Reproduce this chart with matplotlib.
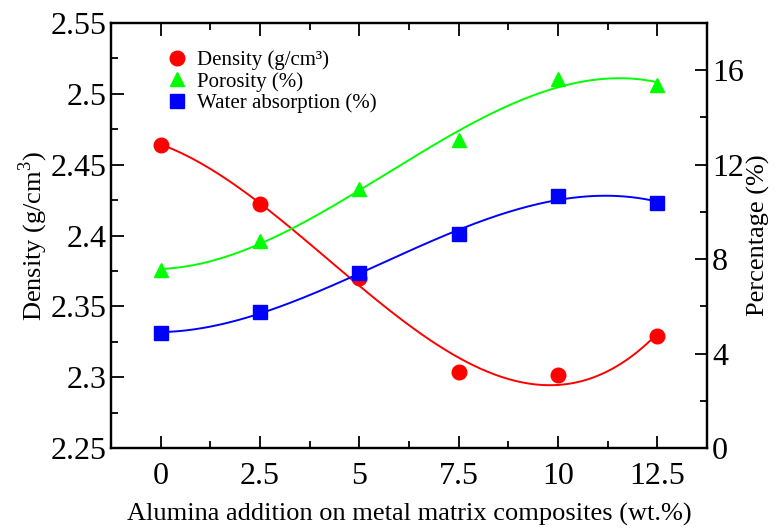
import numpy as np
import matplotlib
matplotlib.use("Agg")
import matplotlib.pyplot as plt
from matplotlib.lines import Line2D
from matplotlib.ticker import MultipleLocator

plt.rcParams['font.family'] = ['Liberation Serif', 'DejaVu Serif']
plt.rcParams['mathtext.fontset'] = 'custom'
plt.rcParams['mathtext.rm'] = 'Liberation Serif'

x = [0, 2.5, 5, 7.5, 10, 12.5]
density = [2.464, 2.422, 2.370, 2.304, 2.3015, 2.329]
porosity = [7.53, 8.77, 10.99, 13.05, 15.63, 15.39]
water = [4.88, 5.76, 7.41, 9.08, 10.66, 10.39]

fig = plt.figure(figsize=(7.77, 5.29), dpi=100)
ax = fig.add_axes([0.1429, 0.1531, 0.7671, 0.8034])
ax2 = ax.twinx()

xs = np.linspace(0, 12.5, 300)

def fit(y):
    return np.polyval(np.polyfit(x, y, 3), xs)

ax.plot(xs, fit(density), color='#ff0000', lw=1.4, zorder=2)
ax.plot(x, density, 'o', color='#ff0000', ms=10.5, zorder=3)
ax2.plot(xs, fit(porosity), color='#00ff00', lw=1.4, zorder=2)
ax2.plot(x, porosity, '^', color='#00ff00', ms=10.5, zorder=3)
ax2.plot(xs, fit(water), color='#0000ff', lw=1.4, zorder=2)
ax2.plot(x, water, 's', color='#0000ff', ms=9.5, zorder=3)

ax.set_xlim(-1.25, 13.75)
ax.set_ylim(2.25, 2.55)
ax2.set_ylim(0, 18)

ax.xaxis.set_major_locator(MultipleLocator(2.5))
ax.xaxis.set_minor_locator(MultipleLocator(1.25))
ax.yaxis.set_major_locator(MultipleLocator(0.05))
ax.yaxis.set_minor_locator(MultipleLocator(0.025))
ax2.yaxis.set_major_locator(MultipleLocator(4))
ax2.yaxis.set_minor_locator(MultipleLocator(2))

ax.set_xticks([0, 2.5, 5, 7.5, 10, 12.5])
ax.set_xticklabels(['0', '2.5', '5', '7.5', '10', '12.5'])
ax.set_yticks([2.25, 2.3, 2.35, 2.4, 2.45, 2.5, 2.55])
ax.set_yticklabels(['2.25', '2.3', '2.35', '2.4', '2.45', '2.5', '2.55'])
ax2.set_yticks([0, 4, 8, 12, 16])
ax2.set_yticklabels(['0', '4', '8', '12', '16'])

for a in (ax, ax2):
    for s in a.spines.values():
        s.set_linewidth(1.6)
ax.tick_params(axis='both', which='major', direction='in', length=9, width=1.3, labelsize=23, top=True)
ax.tick_params(axis='both', which='minor', direction='in', length=5, width=1.3, top=True)
ax.tick_params(axis='y', which='both', right=False)
ax2.tick_params(axis='y', which='major', direction='in', length=9, width=1.3, labelsize=23)
ax2.tick_params(axis='y', which='minor', direction='in', length=5, width=1.3)
ax.tick_params(axis='x', pad=10)

ax.set_xlabel('Alumina addition on metal matrix composites (wt.%)', fontsize=19, labelpad=9)
ax.set_ylabel('Density (g/cm$^3$)', fontsize=19, labelpad=0)
ax2.set_ylabel('Percentage (%)', fontsize=19, labelpad=2)

handles = [
    Line2D([], [], ls='none', marker='o', color='#ff0000', ms=10.5),
    Line2D([], [], ls='none', marker='^', color='#00ff00', ms=10.5),
    Line2D([], [], ls='none', marker='s', color='#0000ff', ms=9.5),
]
labels = ['Density (g/cm\u00b3)', 'Porosity (%)', 'Water absorption (%)']
ax2.legend(handles, labels, loc='upper left', bbox_to_anchor=(0.075, 0.955),
           frameon=False, fontsize=15, handletextpad=0.4, labelspacing=0.08,
           borderaxespad=0, handlelength=1.2)

fig.savefig('out.png', dpi=100)
